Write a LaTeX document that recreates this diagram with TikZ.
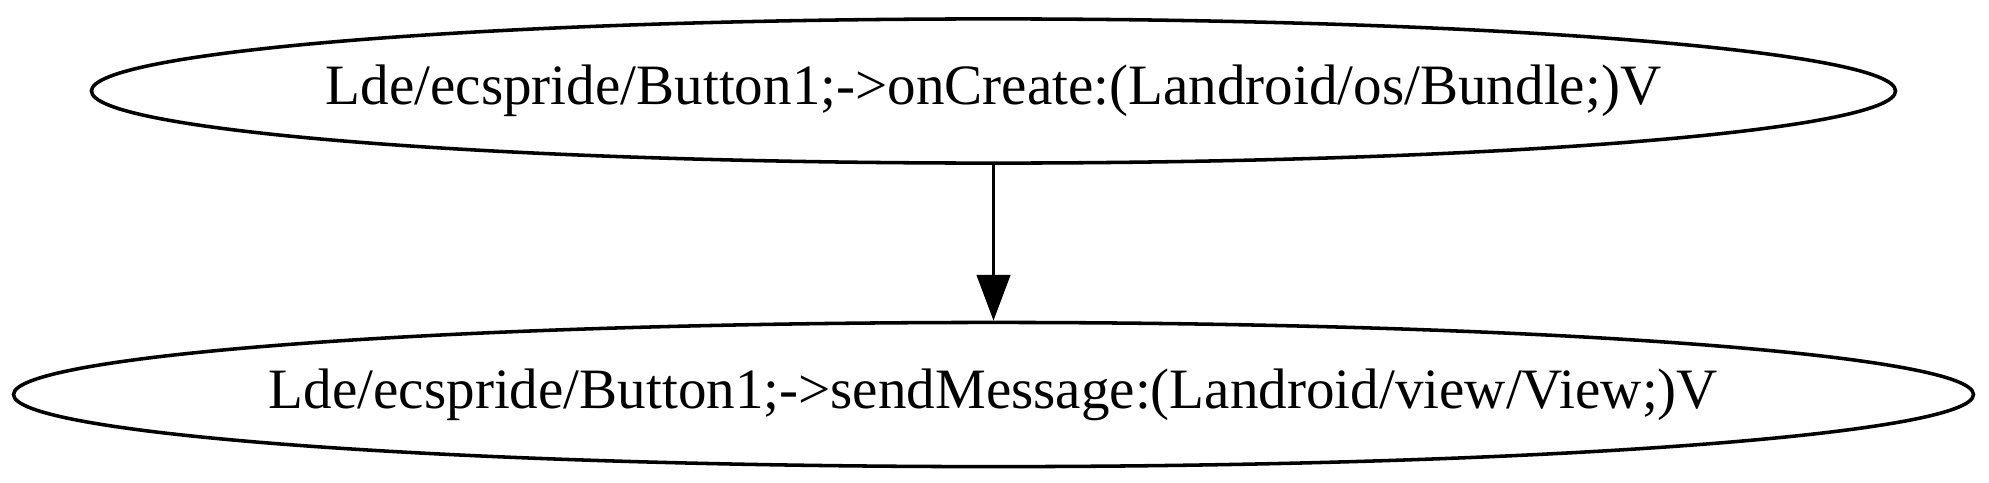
\documentclass[tikz,border=0pt]{standalone}
\usepackage{fontspec}
\setmainfont{Liberation Serif}
\usetikzlibrary{arrows.meta,positioning,shapes.geometric}

\newcommand{\methodlabel}[1]{\makebox[0pt]{#1}}

\tikzset{
  callnode/.style={draw=black, line width=0.85pt, ellipse, inner sep=0pt,
    minimum height=34.6pt, font=\fontsize{13.7pt}{16pt}\selectfont},
  calledge/.style={-{Triangle[length=11pt,width=8pt]}, line width=0.85pt}
}

\begin{document}
\begin{tikzpicture}[x=0.24pt,y=0.24pt]
  \useasboundingbox (0,0) rectangle (1989,-483);
  % ---- caller
  \node[callnode, minimum width=433pt] (oncreate) at (993.5,-91)
       {\methodlabel{Lde/ecspride/Button1;->onCreate:(Landroid/os/Bundle;)V}};
  % ---- callee
  \node[callnode, minimum width=470.4pt, below=37.4pt of oncreate] (sendmsg)
       {\methodlabel{Lde/ecspride/Button1;->sendMessage:(Landroid/view/View;)V}};
  \draw[calledge] (oncreate) -- (sendmsg);
\end{tikzpicture}
\end{document}
